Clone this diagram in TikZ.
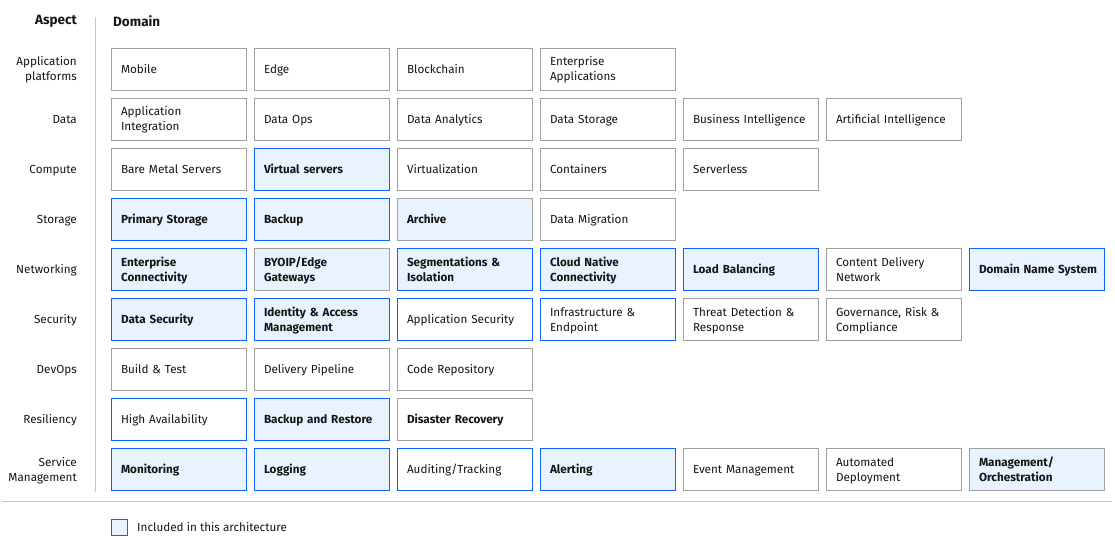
\documentclass[tikz,border=0pt]{standalone}
\usepackage{fontspec}
\setmainfont{Fira Sans}
\definecolor{ibmblue}{HTML}{0F62FE}
\definecolor{ibmfill}{HTML}{E9F2FF}
\definecolor{boxgrey}{HTML}{A0A0A0}
\definecolor{rulegrey}{HTML}{C6C6C6}
\definecolor{txt}{HTML}{161616}
\newcommand\cellfont{\fontsize{11.7}{15}\selectfont}
\newcommand\topstrut{\rule{0pt}{11pt}}
\newcommand\botstrut{\rule[-3pt]{0pt}{3pt}}
\tikzset{
  cellbase/.style={draw, line width=1pt, outer sep=0pt, anchor=north west, minimum width=135pt, minimum height=42pt,
    text width=116pt, inner xsep=9.5pt, inner ysep=0pt, align=left, text=txt,
    font=\cellfont},
  plainc/.style={cellbase, draw=boxgrey, fill=white},
  incl/.style={cellbase, draw=ibmblue, fill=ibmfill, font=\cellfont\bfseries},
  blueonly/.style={cellbase, draw=ibmblue, fill=white},
  greyfill/.style={cellbase, draw=boxgrey, fill=ibmfill, font=\cellfont\bfseries},
  greybold/.style={cellbase, draw=boxgrey, fill=white, font=\cellfont\bfseries},
  aspectlbl/.style={anchor=east, align=right, text=txt, inner sep=0pt, font=\cellfont},
  header/.style={inner sep=0pt, text=txt, font=\fontsize{13.5}{15}\selectfont\bfseries},
  rulel/.style={draw=rulegrey, line width=1pt}
}
\newcommand\cellbox[4]{\node[#1] (c#2#3) at ({111.5+143*#3},{48.5+50*#2}) {\topstrut #4\botstrut};}
\newcommand\aspectrow[2]{\node[aspectlbl] (a#1) at (77,{69.5+50*#1}) {\topstrut #2\botstrut};}
\begin{document}
\begin{tikzpicture}[x=1pt,y=-1pt]
\useasboundingbox (0,0) rectangle (1115,540);
% headers
\node[header, anchor=east] (hasp) at (77,21) {Aspect};
\node[header, anchor=west] (hdom) at (113,21) {Domain};
% rules
\coordinate (vtop) at (95,17);
\coordinate (vbot) at (95,492);
\coordinate (hl) at (2,501);
\coordinate (hr) at (1112,501);
\draw[rulel] (vtop) -- (vbot);
\draw[rulel] (hl) -- (hr);
% aspects
\aspectrow{0}{Application\\platforms}
\aspectrow{1}{Data}
\aspectrow{2}{Compute}
\aspectrow{3}{Storage}
\aspectrow{4}{Networking}
\aspectrow{5}{Security}
\aspectrow{6}{DevOps}
\aspectrow{7}{Resiliency}
\aspectrow{8}{Service\\Management}
% row 0
\cellbox{plainc}{0}{0}{Mobile}
\cellbox{plainc}{0}{1}{Edge}
\cellbox{plainc}{0}{2}{Blockchain}
\cellbox{plainc}{0}{3}{Enterprise\\Applications}
% row 1
\cellbox{plainc}{1}{0}{Application\\Integration}
\cellbox{plainc}{1}{1}{Data Ops}
\cellbox{plainc}{1}{2}{Data Analytics}
\cellbox{plainc}{1}{3}{Data Storage}
\cellbox{plainc}{1}{4}{Business Intelligence}
\cellbox{plainc}{1}{5}{Artificial Intelligence}
% row 2
\cellbox{plainc}{2}{0}{Bare Metal Servers}
\cellbox{incl}{2}{1}{Virtual servers}
\cellbox{plainc}{2}{2}{Virtualization}
\cellbox{plainc}{2}{3}{Containers}
\cellbox{plainc}{2}{4}{Serverless}
% row 3
\cellbox{incl}{3}{0}{Primary Storage}
\cellbox{incl}{3}{1}{Backup}
\cellbox{greyfill}{3}{2}{Archive}
\cellbox{plainc}{3}{3}{Data Migration}
% row 4
\cellbox{incl}{4}{0}{Enterprise\\Connectivity}
\cellbox{greyfill}{4}{1}{BYOIP/Edge\\Gateways}
\cellbox{incl}{4}{2}{Segmentations \&\\Isolation}
\cellbox{incl}{4}{3}{Cloud Native\\Connectivity}
\cellbox{incl}{4}{4}{Load Balancing}
\cellbox{plainc}{4}{5}{Content Delivery\\Network}
\cellbox{incl}{4}{6}{\mbox{Domain Name System}}
% row 5
\cellbox{incl}{5}{0}{Data Security}
\cellbox{incl}{5}{1}{Identity \& Access\\Management}
\cellbox{blueonly}{5}{2}{Application Security}
\cellbox{blueonly}{5}{3}{Infrastructure \&\\Endpoint}
\cellbox{plainc}{5}{4}{Threat Detection \&\\Response}
\cellbox{plainc}{5}{5}{Governance, Risk \&\\Compliance}
% row 6
\cellbox{plainc}{6}{0}{Build \& Test}
\cellbox{plainc}{6}{1}{Delivery Pipeline}
\cellbox{plainc}{6}{2}{Code Repository}
% row 7
\cellbox{blueonly}{7}{0}{High Availability}
\cellbox{incl}{7}{1}{Backup and Restore}
\cellbox{greybold}{7}{2}{Disaster Recovery}
% row 8
\cellbox{incl}{8}{0}{Monitoring}
\cellbox{incl}{8}{1}{Logging}
\cellbox{blueonly}{8}{2}{Auditing/Tracking}
\cellbox{incl}{8}{3}{Alerting}
\cellbox{plainc}{8}{4}{Event Management}
\cellbox{plainc}{8}{5}{Automated\\Deployment}
\cellbox{greyfill}{8}{6}{Management/\\Orchestration}
% legend
\node[draw=ibmblue, fill=ibmfill, line width=1pt, outer sep=0pt, minimum width=16pt, minimum height=16pt, inner sep=0pt, anchor=north west] (legbox) at (111.5,519.5) {};
\node[anchor=west, inner sep=0pt, text=txt, font=\cellfont] (legtxt) at (137,527.5) {Included in this architecture};
\end{tikzpicture}
\end{document}
